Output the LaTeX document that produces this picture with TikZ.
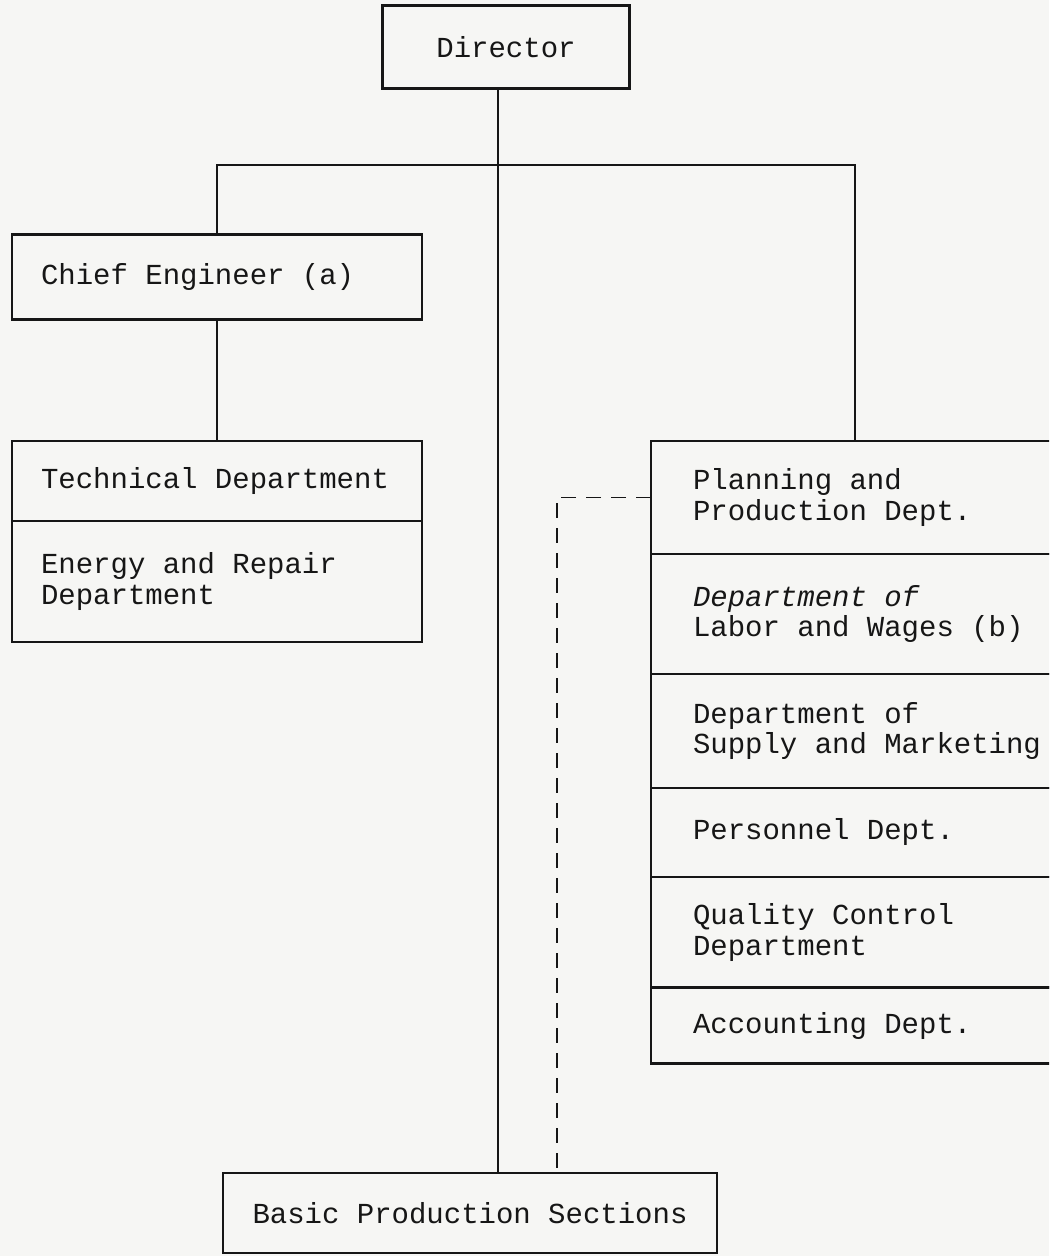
\documentclass[tikz,border=0pt]{standalone}
\usepackage{fontspec}
\usepackage{tikz}
\usetikzlibrary{positioning}
\newfontfamily\typewriter[WordSpace={1,0,0}]{Liberation Mono}
\definecolor{paperGray}{RGB}{246,246,244}
\definecolor{inkBlack}{RGB}{22,22,22}

\begin{document}
\begin{tikzpicture}[x=0.02cm, y=-0.02cm,
    box/.style={draw=inkBlack, line width=1.6pt, outer sep=0pt, fill=paperGray,
      font=\typewriter\fontsize{16.5}{17.5}\selectfont, text=inkBlack},
    leftbox/.style={box, minimum width=8.2cm, text width=7.04cm, inner xsep=0.58cm, align=flush left},
    dept/.style={box, minimum width=9cm, text width=7.32cm, inner xsep=0.84cm, align=flush left},
    link/.style={draw=inkBlack, line width=1.1pt}
  ]
  \useasboundingbox[fill=paperGray] (0,0) rectangle (1049,1256);
  \clip (0,0) rectangle (1049,1256);

  \node[box, minimum width=4.94cm, minimum height=1.66cm] (director) at (506,47) {Director};

  % left branch
  \node[leftbox, minimum height=1.7cm] (chief) at (217,277) {Chief Engineer (a)};
  \node[leftbox, minimum height=1.6cm, anchor=north] (technical) at (217,441) {Technical Department};
  \node[leftbox, minimum height=2.42cm, below=0pt of technical] (energy) {Energy and Repair\\Department};

  % right branch
  \node[dept, minimum height=2.26cm, anchor=north west] (planning) at (651,441) {Planning and\\Production Dept.};
  \node[dept, minimum height=2.4cm, below=0pt of planning] (labor) {{\itshape Department of}\\Labor and Wages (b)};
  \node[dept, minimum height=2.28cm, below=0pt of labor] (supply) {Department of\\Supply and Marketing};
  \node[dept, minimum height=1.78cm, below=0pt of supply] (personnel) {Personnel Dept.};
  \node[dept, minimum height=2.22cm, below=0pt of personnel] (quality) {Quality Control\\Department};
  \node[dept, minimum height=1.52cm, below=0pt of quality] (accounting) {Accounting Dept.};

  \node[box, minimum width=9.88cm, minimum height=1.6cm] (basic) at (470,1213) {Basic Production Sections};

  \coordinate (spine) at (498,0);
  \coordinate (rtap) at (855,165);
  \coordinate (dtap) at (557,0);
  \draw[link] (director.south -| spine) -- (basic.north -| spine);
  \draw[link] (chief.north) |- (rtap) -- (rtap |- planning.north);
  \draw[link] (chief.south) -- (technical.north);
  \draw[link, dash pattern=on 0.3cm off 0.2cm] (planning.west) -| (dtap |- basic.north);
\end{tikzpicture}
\end{document}
